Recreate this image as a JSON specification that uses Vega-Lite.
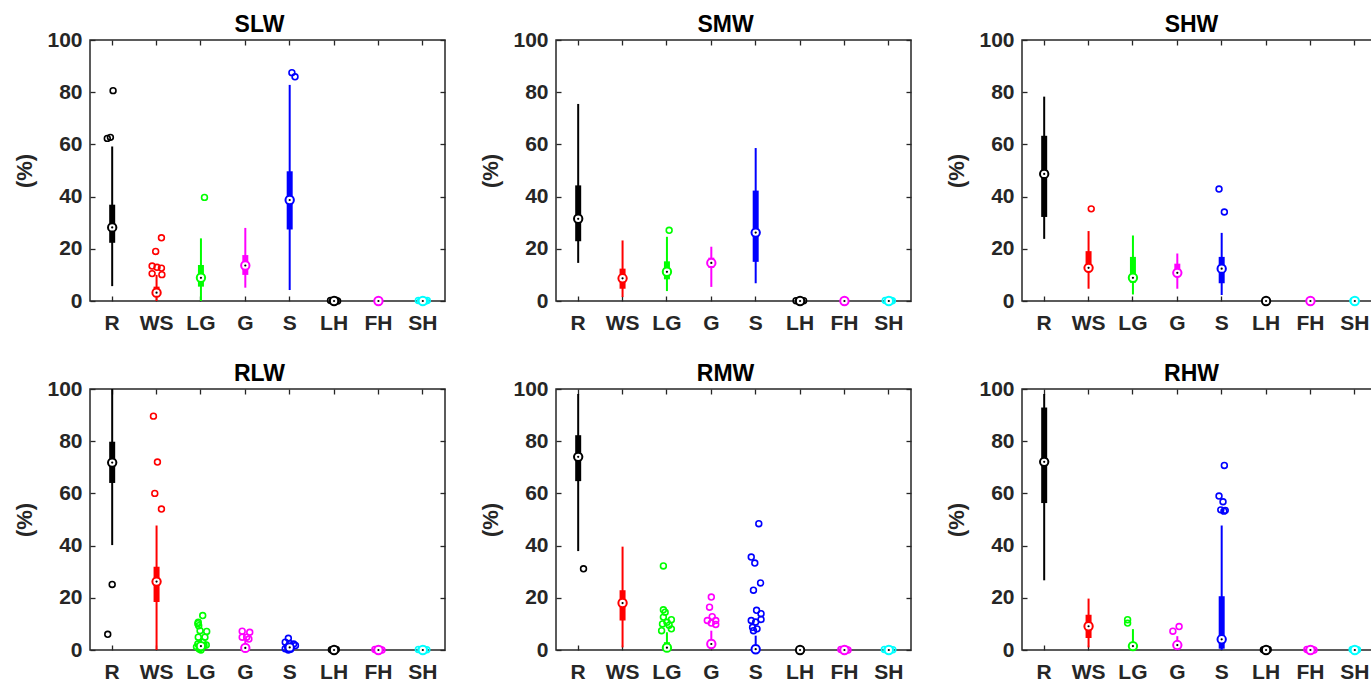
{
"$schema": "https://vega.github.io/schema/vega-lite/v6.json",
"padding": {"left": 13, "top": 13, "right": 0, "bottom": 0},
"datasets": {"d": [
{"p":"SLW","c":"R","t":"b","lo":5.7,"q1":22.3,"md":28.2,"q3":36.9,"hi":59.2},
{"p":"SLW","c":"WS","t":"b","lo":0,"q1":1.5,"md":3.2,"q3":5.5,"hi":10},
{"p":"SLW","c":"LG","t":"b","lo":0,"q1":5.5,"md":8.9,"q3":13.8,"hi":24},
{"p":"SLW","c":"G","t":"b","lo":5.1,"q1":10,"md":13.6,"q3":17.6,"hi":28},
{"p":"SLW","c":"S","t":"b","lo":4.2,"q1":27.4,"md":38.7,"q3":49.7,"hi":82.8},
{"p":"SLW","c":"LH","t":"b","lo":0,"q1":0,"md":0,"q3":0,"hi":0},
{"p":"SLW","c":"FH","t":"b","lo":0,"q1":0,"md":0,"q3":0,"hi":0},
{"p":"SLW","c":"SH","t":"b","lo":0,"q1":0,"md":0,"q3":0,"hi":0},
{"p":"SLW","c":"R","t":"o","v":62.3,"j":-0.11},
{"p":"SLW","c":"R","t":"o","v":62.7,"j":-0.04},
{"p":"SLW","c":"R","t":"o","v":80.6,"j":0.02},
{"p":"SLW","c":"WS","t":"o","v":24.2,"j":0.11},
{"p":"SLW","c":"WS","t":"o","v":19,"j":-0.02},
{"p":"SLW","c":"WS","t":"o","v":13.4,"j":-0.1},
{"p":"SLW","c":"WS","t":"o","v":12.9,"j":0.01},
{"p":"SLW","c":"WS","t":"o","v":12.6,"j":0.11},
{"p":"SLW","c":"WS","t":"o","v":10.5,"j":-0.1},
{"p":"SLW","c":"WS","t":"o","v":10.1,"j":0.12},
{"p":"SLW","c":"LG","t":"o","v":39.7,"j":0.08},
{"p":"SLW","c":"S","t":"o","v":87.5,"j":0.05},
{"p":"SLW","c":"S","t":"o","v":85.9,"j":0.12},
{"p":"SLW","c":"LH","t":"o","v":0.2,"j":-0.08},
{"p":"SLW","c":"LH","t":"o","v":0.1,"j":-0.03},
{"p":"SLW","c":"LH","t":"o","v":0.3,"j":0.04},
{"p":"SLW","c":"LH","t":"o","v":0,"j":0.08},
{"p":"SLW","c":"SH","t":"o","v":0.2,"j":-0.1},
{"p":"SLW","c":"SH","t":"o","v":0.1,"j":-0.05},
{"p":"SLW","c":"SH","t":"o","v":0.3,"j":0.02},
{"p":"SLW","c":"SH","t":"o","v":0,"j":0.06},
{"p":"SLW","c":"SH","t":"o","v":0.2,"j":0.1},

{"p":"SMW","c":"R","t":"b","lo":14.6,"q1":22.9,"md":31.5,"q3":44.3,"hi":75.5},
{"p":"SMW","c":"WS","t":"b","lo":1.5,"q1":4.7,"md":8.7,"q3":12.4,"hi":23.2},
{"p":"SMW","c":"LG","t":"b","lo":3.8,"q1":8.3,"md":11.2,"q3":15.2,"hi":24.6},
{"p":"SMW","c":"G","t":"b","lo":5.4,"q1":12.7,"md":14.6,"q3":16.6,"hi":20.8},
{"p":"SMW","c":"S","t":"b","lo":6.8,"q1":15,"md":26.2,"q3":42.3,"hi":58.6},
{"p":"SMW","c":"LH","t":"b","lo":0,"q1":0,"md":0,"q3":0,"hi":0},
{"p":"SMW","c":"FH","t":"b","lo":0,"q1":0,"md":0,"q3":0,"hi":0},
{"p":"SMW","c":"SH","t":"b","lo":0,"q1":0,"md":0,"q3":0,"hi":0},
{"p":"SMW","c":"LG","t":"o","v":27.1,"j":0.05},
{"p":"SMW","c":"LH","t":"o","v":0.1,"j":-0.09},
{"p":"SMW","c":"LH","t":"o","v":0.2,"j":-0.03},
{"p":"SMW","c":"LH","t":"o","v":0,"j":0.03},
{"p":"SMW","c":"LH","t":"o","v":0.1,"j":0.08},
{"p":"SMW","c":"SH","t":"o","v":0.2,"j":-0.08},
{"p":"SMW","c":"SH","t":"o","v":0,"j":-0.02},
{"p":"SMW","c":"SH","t":"o","v":0.3,"j":0.04},
{"p":"SMW","c":"SH","t":"o","v":0.1,"j":0.08},

{"p":"SHW","c":"R","t":"b","lo":23.8,"q1":32.2,"md":48.7,"q3":63.3,"hi":78.3},
{"p":"SHW","c":"WS","t":"b","lo":4.7,"q1":11.5,"md":12.7,"q3":19.1,"hi":26.8},
{"p":"SHW","c":"LG","t":"b","lo":2.5,"q1":7,"md":8.9,"q3":16.9,"hi":25.1},
{"p":"SHW","c":"G","t":"b","lo":4.7,"q1":10.2,"md":10.8,"q3":14.3,"hi":18.2},
{"p":"SHW","c":"S","t":"b","lo":2.3,"q1":6.8,"md":12.4,"q3":16.9,"hi":26.1},
{"p":"SHW","c":"LH","t":"b","lo":0,"q1":0,"md":0,"q3":0,"hi":0},
{"p":"SHW","c":"FH","t":"b","lo":0,"q1":0,"md":0,"q3":0,"hi":0},
{"p":"SHW","c":"SH","t":"b","lo":0,"q1":0,"md":0,"q3":0,"hi":0},
{"p":"SHW","c":"WS","t":"o","v":35.3,"j":0.06},
{"p":"SHW","c":"S","t":"o","v":42.9,"j":-0.06},
{"p":"SHW","c":"S","t":"o","v":34.1,"j":0.06},
{"p":"SHW","c":"SH","t":"o","v":0.1,"j":-0.04},

{"p":"RLW","c":"R","t":"b","lo":40.2,"q1":64,"md":71.8,"q3":79.8,"hi":100},
{"p":"RLW","c":"WS","t":"b","lo":0,"q1":18.4,"md":26.2,"q3":31.9,"hi":47.7},
{"p":"RLW","c":"LG","t":"b","lo":0,"q1":0.5,"md":1.5,"q3":2.5,"hi":4},
{"p":"RLW","c":"G","t":"b","lo":0,"q1":0.5,"md":0.8,"q3":2,"hi":4},
{"p":"RLW","c":"S","t":"b","lo":0,"q1":0.5,"md":1,"q3":1.5,"hi":2},
{"p":"RLW","c":"LH","t":"b","lo":0,"q1":0,"md":0,"q3":0,"hi":0},
{"p":"RLW","c":"FH","t":"b","lo":0,"q1":0,"md":0,"q3":0,"hi":0},
{"p":"RLW","c":"SH","t":"b","lo":0,"q1":0,"md":0,"q3":0,"hi":0},
{"p":"RLW","c":"R","t":"o","v":25.1,"j":0},
{"p":"RLW","c":"R","t":"o","v":6,"j":-0.1},
{"p":"RLW","c":"WS","t":"o","v":89.6,"j":-0.07},
{"p":"RLW","c":"WS","t":"o","v":72,"j":0.02},
{"p":"RLW","c":"WS","t":"o","v":60,"j":-0.04},
{"p":"RLW","c":"WS","t":"o","v":54,"j":0.11},
{"p":"RLW","c":"LG","t":"o","v":13.2,"j":0.04},
{"p":"RLW","c":"LG","t":"o","v":10.6,"j":-0.06},
{"p":"RLW","c":"LG","t":"o","v":10.1,"j":-0.07},
{"p":"RLW","c":"LG","t":"o","v":9.3,"j":-0.05},
{"p":"RLW","c":"LG","t":"o","v":7.4,"j":-0.02},
{"p":"RLW","c":"LG","t":"o","v":7.1,"j":0.13},
{"p":"RLW","c":"LG","t":"o","v":4.9,"j":-0.06},
{"p":"RLW","c":"LG","t":"o","v":4.9,"j":0.09},
{"p":"RLW","c":"LG","t":"o","v":3,"j":0.04},
{"p":"RLW","c":"LG","t":"o","v":2.3,"j":-0.07},
{"p":"RLW","c":"LG","t":"o","v":1.7,"j":0.07},
{"p":"RLW","c":"LG","t":"o","v":1.9,"j":0.12},
{"p":"RLW","c":"LG","t":"o","v":1.2,"j":-0.1},
{"p":"RLW","c":"LG","t":"o","v":0.4,"j":-0.04},
{"p":"RLW","c":"LG","t":"o","v":0,"j":0},
{"p":"RLW","c":"G","t":"o","v":7.2,"j":-0.07},
{"p":"RLW","c":"G","t":"o","v":6.8,"j":0.1},
{"p":"RLW","c":"G","t":"o","v":4.9,"j":-0.07},
{"p":"RLW","c":"G","t":"o","v":4.9,"j":0.03},
{"p":"RLW","c":"G","t":"o","v":4.2,"j":0.08},
{"p":"RLW","c":"S","t":"o","v":4.5,"j":-0.03},
{"p":"RLW","c":"S","t":"o","v":3,"j":-0.1},
{"p":"RLW","c":"S","t":"o","v":2.5,"j":0},
{"p":"RLW","c":"S","t":"o","v":2.3,"j":0.09},
{"p":"RLW","c":"S","t":"o","v":1.7,"j":0.13},
{"p":"RLW","c":"S","t":"o","v":1.3,"j":-0.05},
{"p":"RLW","c":"S","t":"o","v":0.5,"j":-0.1},
{"p":"RLW","c":"S","t":"o","v":0.3,"j":0.02},
{"p":"RLW","c":"S","t":"o","v":0,"j":-0.03},
{"p":"RLW","c":"LH","t":"o","v":0.1,"j":-0.06},
{"p":"RLW","c":"LH","t":"o","v":0.2,"j":0.05},
{"p":"RLW","c":"FH","t":"o","v":0.2,"j":-0.08},
{"p":"RLW","c":"FH","t":"o","v":0.1,"j":-0.03},
{"p":"RLW","c":"FH","t":"o","v":0.3,"j":0.03},
{"p":"RLW","c":"FH","t":"o","v":0,"j":0.08},
{"p":"RLW","c":"SH","t":"o","v":0.2,"j":-0.1},
{"p":"RLW","c":"SH","t":"o","v":0,"j":-0.04},
{"p":"RLW","c":"SH","t":"o","v":0.3,"j":0.03},
{"p":"RLW","c":"SH","t":"o","v":0.1,"j":0.09},

{"p":"RMW","c":"R","t":"b","lo":37.9,"q1":64.7,"md":74,"q3":82.3,"hi":98.1},
{"p":"RMW","c":"WS","t":"b","lo":1,"q1":11.3,"md":18,"q3":22.9,"hi":39.6},
{"p":"RMW","c":"LG","t":"b","lo":0.5,"q1":0.8,"md":0.9,"q3":3,"hi":6.8},
{"p":"RMW","c":"G","t":"b","lo":1.5,"q1":2,"md":2.3,"q3":4,"hi":7.4},
{"p":"RMW","c":"S","t":"b","lo":0,"q1":0.2,"md":0.3,"q3":2,"hi":5.5},
{"p":"RMW","c":"LH","t":"b","lo":0,"q1":0,"md":0,"q3":0,"hi":0},
{"p":"RMW","c":"FH","t":"b","lo":0,"q1":0,"md":0,"q3":0,"hi":0},
{"p":"RMW","c":"SH","t":"b","lo":0,"q1":0,"md":0,"q3":0,"hi":0},
{"p":"RMW","c":"R","t":"o","v":31.1,"j":0.12},
{"p":"RMW","c":"LG","t":"o","v":32.2,"j":-0.08},
{"p":"RMW","c":"LG","t":"o","v":15.4,"j":-0.08},
{"p":"RMW","c":"LG","t":"o","v":14.5,"j":-0.04},
{"p":"RMW","c":"LG","t":"o","v":12.6,"j":-0.08},
{"p":"RMW","c":"LG","t":"o","v":11.6,"j":0.1},
{"p":"RMW","c":"LG","t":"o","v":10.6,"j":0},
{"p":"RMW","c":"LG","t":"o","v":10,"j":-0.1},
{"p":"RMW","c":"LG","t":"o","v":9.5,"j":0.05},
{"p":"RMW","c":"LG","t":"o","v":8.1,"j":0.1},
{"p":"RMW","c":"LG","t":"o","v":7.4,"j":-0.12},
{"p":"RMW","c":"G","t":"o","v":20.3,"j":0},
{"p":"RMW","c":"G","t":"o","v":16.4,"j":-0.04},
{"p":"RMW","c":"G","t":"o","v":12.8,"j":0.02},
{"p":"RMW","c":"G","t":"o","v":11.3,"j":-0.09},
{"p":"RMW","c":"G","t":"o","v":11.3,"j":0.1},
{"p":"RMW","c":"G","t":"o","v":10.3,"j":0},
{"p":"RMW","c":"G","t":"o","v":9.8,"j":0.1},
{"p":"RMW","c":"S","t":"o","v":48.4,"j":0.07},
{"p":"RMW","c":"S","t":"o","v":35.6,"j":-0.1},
{"p":"RMW","c":"S","t":"o","v":33.3,"j":-0.02},
{"p":"RMW","c":"S","t":"o","v":25.7,"j":0.11},
{"p":"RMW","c":"S","t":"o","v":22.9,"j":-0.05},
{"p":"RMW","c":"S","t":"o","v":15.2,"j":0.02},
{"p":"RMW","c":"S","t":"o","v":13.9,"j":0.12},
{"p":"RMW","c":"S","t":"o","v":11.7,"j":0.12},
{"p":"RMW","c":"S","t":"o","v":11.3,"j":-0.1},
{"p":"RMW","c":"S","t":"o","v":10.7,"j":0},
{"p":"RMW","c":"S","t":"o","v":8.7,"j":-0.07},
{"p":"RMW","c":"S","t":"o","v":8.1,"j":0.03},
{"p":"RMW","c":"S","t":"o","v":7.4,"j":-0.05},
{"p":"RMW","c":"LH","t":"o","v":0.1,"j":0.02},
{"p":"RMW","c":"FH","t":"o","v":0.2,"j":-0.08},
{"p":"RMW","c":"FH","t":"o","v":0.1,"j":-0.03},
{"p":"RMW","c":"FH","t":"o","v":0.3,"j":0.03},
{"p":"RMW","c":"FH","t":"o","v":0,"j":0.08},
{"p":"RMW","c":"SH","t":"o","v":0.2,"j":-0.1},
{"p":"RMW","c":"SH","t":"o","v":0,"j":-0.04},
{"p":"RMW","c":"SH","t":"o","v":0.3,"j":0.03},
{"p":"RMW","c":"SH","t":"o","v":0.1,"j":0.09},

{"p":"RHW","c":"R","t":"b","lo":26.7,"q1":56.3,"md":72.1,"q3":92.9,"hi":98.1},
{"p":"RHW","c":"WS","t":"b","lo":1,"q1":4.6,"md":9.1,"q3":13.5,"hi":19.7},
{"p":"RHW","c":"LG","t":"b","lo":0.5,"q1":1,"md":1.5,"q3":3,"hi":8},
{"p":"RHW","c":"G","t":"b","lo":1,"q1":1.5,"md":1.9,"q3":3,"hi":5.3},
{"p":"RHW","c":"S","t":"b","lo":0,"q1":0.5,"md":4.1,"q3":20.6,"hi":47.7},
{"p":"RHW","c":"LH","t":"b","lo":0,"q1":0,"md":0,"q3":0,"hi":0},
{"p":"RHW","c":"FH","t":"b","lo":0,"q1":0,"md":0,"q3":0,"hi":0},
{"p":"RHW","c":"SH","t":"b","lo":0,"q1":0,"md":0,"q3":0,"hi":0},
{"p":"RHW","c":"LG","t":"o","v":11.6,"j":-0.12},
{"p":"RHW","c":"LG","t":"o","v":10.3,"j":-0.12},
{"p":"RHW","c":"G","t":"o","v":9,"j":0.04},
{"p":"RHW","c":"G","t":"o","v":7.2,"j":-0.1},
{"p":"RHW","c":"S","t":"o","v":70.7,"j":0.06},
{"p":"RHW","c":"S","t":"o","v":59,"j":-0.06},
{"p":"RHW","c":"S","t":"o","v":56.8,"j":0.03},
{"p":"RHW","c":"S","t":"o","v":53.7,"j":-0.02},
{"p":"RHW","c":"S","t":"o","v":53.2,"j":0.05},
{"p":"RHW","c":"S","t":"o","v":53.5,"j":0.08},
{"p":"RHW","c":"LH","t":"o","v":0.1,"j":-0.06},
{"p":"RHW","c":"LH","t":"o","v":0.2,"j":0.05},
{"p":"RHW","c":"FH","t":"o","v":0.2,"j":-0.08},
{"p":"RHW","c":"FH","t":"o","v":0.1,"j":-0.03},
{"p":"RHW","c":"FH","t":"o","v":0.3,"j":0.03},
{"p":"RHW","c":"FH","t":"o","v":0,"j":0.08},
{"p":"RHW","c":"SH","t":"o","v":0.2,"j":-0.06},
{"p":"RHW","c":"SH","t":"o","v":0,"j":0},
{"p":"RHW","c":"SH","t":"o","v":0.1,"j":0.06}
]},
"data": {"name": "d"},
"columns": 3,
"spacing": {"row": 88, "column": 111},
"bounds": "flush",
"concat": [
{"title":{"text":"SLW"},"width":355,"height":261,"transform":[{"filter":"datum.p==='SLW'"}],"resolve":{"axis":{"x":"independent","y":"independent"}},
"layer":[
{"transform":[{"filter":"datum.t==='b'"}],"mark":{"type":"rule","strokeWidth":2},"encoding":{"x":{"field":"c","type":"nominal","scale":{"type":"band","domain":["R","WS","LG","G","S","LH","FH","SH"],"paddingInner":0,"paddingOuter":0},"axis":{"orient":"bottom","title":null}},"y":{"field":"lo","type":"quantitative","scale":{"domain":[0,100],"nice":false},"axis":{"orient":"left","title":"(%)","values":[0,20,40,60,80,100]}},"y2":{"field":"hi"},"stroke":{"field":"c","type":"nominal","scale":{"domain":["R","WS","LG","G","S","LH","FH","SH"],"range":["#000000","#ff0000","#00ff00","#ff00ff","#0000ff","#000000","#ff00ff","#00ffff"]},"legend":null}}},
{"transform":[{"filter":"datum.t==='b'"}],"mark":{"type":"rule","strokeWidth":6},"encoding":{"x":{"field":"c","type":"nominal","scale":{"type":"band","domain":["R","WS","LG","G","S","LH","FH","SH"],"paddingInner":0,"paddingOuter":0},"axis":{"orient":"top","title":null,"labels":false}},"y":{"field":"q1","type":"quantitative","scale":{"domain":[0,100],"nice":false},"axis":{"orient":"right","title":null,"labels":false,"values":[0,20,40,60,80,100]}},"y2":{"field":"q3"},"stroke":{"field":"c","type":"nominal","scale":{"domain":["R","WS","LG","G","S","LH","FH","SH"],"range":["#000000","#ff0000","#00ff00","#ff00ff","#0000ff","#000000","#ff00ff","#00ffff"]},"legend":null}}},
{"transform":[{"filter":"datum.t==='o'"}],"mark":{"type":"point","shape":"circle","filled":false,"size":34,"strokeWidth":1.6,"opacity":1},"encoding":{"x":{"field":"c","type":"nominal","scale":{"type":"band","domain":["R","WS","LG","G","S","LH","FH","SH"],"paddingInner":0,"paddingOuter":0},"axis":null},"xOffset":{"field":"j","type":"quantitative","scale":{"domain":[-0.5,0.5]}},"y":{"field":"v","type":"quantitative","scale":{"domain":[0,100],"nice":false},"axis":null},"stroke":{"field":"c","type":"nominal","scale":{"domain":["R","WS","LG","G","S","LH","FH","SH"],"range":["#000000","#ff0000","#00ff00","#ff00ff","#0000ff","#000000","#ff00ff","#00ffff"]},"legend":null}}},
{"transform":[{"filter":"datum.t==='b'"}],"mark":{"type":"point","shape":"circle","filled":true,"fill":"#ffffff","size":70,"strokeWidth":2,"opacity":1},"encoding":{"x":{"field":"c","type":"nominal","scale":{"type":"band","domain":["R","WS","LG","G","S","LH","FH","SH"],"paddingInner":0,"paddingOuter":0},"axis":null},"y":{"field":"md","type":"quantitative","scale":{"domain":[0,100],"nice":false},"axis":null},"stroke":{"field":"c","type":"nominal","scale":{"domain":["R","WS","LG","G","S","LH","FH","SH"],"range":["#000000","#ff0000","#00ff00","#ff00ff","#0000ff","#000000","#ff00ff","#00ffff"]},"legend":null}}},
{"transform":[{"filter":"datum.t==='b'"}],"mark":{"type":"point","shape":"circle","filled":true,"color":"#000000","size":5,"opacity":1},"encoding":{"x":{"field":"c","type":"nominal","scale":{"type":"band","domain":["R","WS","LG","G","S","LH","FH","SH"],"paddingInner":0,"paddingOuter":0},"axis":null},"y":{"field":"md","type":"quantitative","scale":{"domain":[0,100],"nice":false},"axis":null}}}
]},
{"title":{"text":"SMW"},"width":355,"height":261,"transform":[{"filter":"datum.p==='SMW'"}],"resolve":{"axis":{"x":"independent","y":"independent"}},
"layer":[
{"transform":[{"filter":"datum.t==='b'"}],"mark":{"type":"rule","strokeWidth":2},"encoding":{"x":{"field":"c","type":"nominal","scale":{"type":"band","domain":["R","WS","LG","G","S","LH","FH","SH"],"paddingInner":0,"paddingOuter":0},"axis":{"orient":"bottom","title":null}},"y":{"field":"lo","type":"quantitative","scale":{"domain":[0,100],"nice":false},"axis":{"orient":"left","title":"(%)","values":[0,20,40,60,80,100]}},"y2":{"field":"hi"},"stroke":{"field":"c","type":"nominal","scale":{"domain":["R","WS","LG","G","S","LH","FH","SH"],"range":["#000000","#ff0000","#00ff00","#ff00ff","#0000ff","#000000","#ff00ff","#00ffff"]},"legend":null}}},
{"transform":[{"filter":"datum.t==='b'"}],"mark":{"type":"rule","strokeWidth":6},"encoding":{"x":{"field":"c","type":"nominal","scale":{"type":"band","domain":["R","WS","LG","G","S","LH","FH","SH"],"paddingInner":0,"paddingOuter":0},"axis":{"orient":"top","title":null,"labels":false}},"y":{"field":"q1","type":"quantitative","scale":{"domain":[0,100],"nice":false},"axis":{"orient":"right","title":null,"labels":false,"values":[0,20,40,60,80,100]}},"y2":{"field":"q3"},"stroke":{"field":"c","type":"nominal","scale":{"domain":["R","WS","LG","G","S","LH","FH","SH"],"range":["#000000","#ff0000","#00ff00","#ff00ff","#0000ff","#000000","#ff00ff","#00ffff"]},"legend":null}}},
{"transform":[{"filter":"datum.t==='o'"}],"mark":{"type":"point","shape":"circle","filled":false,"size":34,"strokeWidth":1.6,"opacity":1},"encoding":{"x":{"field":"c","type":"nominal","scale":{"type":"band","domain":["R","WS","LG","G","S","LH","FH","SH"],"paddingInner":0,"paddingOuter":0},"axis":null},"xOffset":{"field":"j","type":"quantitative","scale":{"domain":[-0.5,0.5]}},"y":{"field":"v","type":"quantitative","scale":{"domain":[0,100],"nice":false},"axis":null},"stroke":{"field":"c","type":"nominal","scale":{"domain":["R","WS","LG","G","S","LH","FH","SH"],"range":["#000000","#ff0000","#00ff00","#ff00ff","#0000ff","#000000","#ff00ff","#00ffff"]},"legend":null}}},
{"transform":[{"filter":"datum.t==='b'"}],"mark":{"type":"point","shape":"circle","filled":true,"fill":"#ffffff","size":70,"strokeWidth":2,"opacity":1},"encoding":{"x":{"field":"c","type":"nominal","scale":{"type":"band","domain":["R","WS","LG","G","S","LH","FH","SH"],"paddingInner":0,"paddingOuter":0},"axis":null},"y":{"field":"md","type":"quantitative","scale":{"domain":[0,100],"nice":false},"axis":null},"stroke":{"field":"c","type":"nominal","scale":{"domain":["R","WS","LG","G","S","LH","FH","SH"],"range":["#000000","#ff0000","#00ff00","#ff00ff","#0000ff","#000000","#ff00ff","#00ffff"]},"legend":null}}},
{"transform":[{"filter":"datum.t==='b'"}],"mark":{"type":"point","shape":"circle","filled":true,"color":"#000000","size":5,"opacity":1},"encoding":{"x":{"field":"c","type":"nominal","scale":{"type":"band","domain":["R","WS","LG","G","S","LH","FH","SH"],"paddingInner":0,"paddingOuter":0},"axis":null},"y":{"field":"md","type":"quantitative","scale":{"domain":[0,100],"nice":false},"axis":null}}}
]},
{"title":{"text":"SHW"},"width":355,"height":261,"transform":[{"filter":"datum.p==='SHW'"}],"resolve":{"axis":{"x":"independent","y":"independent"}},
"layer":[
{"transform":[{"filter":"datum.t==='b'"}],"mark":{"type":"rule","strokeWidth":2},"encoding":{"x":{"field":"c","type":"nominal","scale":{"type":"band","domain":["R","WS","LG","G","S","LH","FH","SH"],"paddingInner":0,"paddingOuter":0},"axis":{"orient":"bottom","title":null}},"y":{"field":"lo","type":"quantitative","scale":{"domain":[0,100],"nice":false},"axis":{"orient":"left","title":"(%)","values":[0,20,40,60,80,100]}},"y2":{"field":"hi"},"stroke":{"field":"c","type":"nominal","scale":{"domain":["R","WS","LG","G","S","LH","FH","SH"],"range":["#000000","#ff0000","#00ff00","#ff00ff","#0000ff","#000000","#ff00ff","#00ffff"]},"legend":null}}},
{"transform":[{"filter":"datum.t==='b'"}],"mark":{"type":"rule","strokeWidth":6},"encoding":{"x":{"field":"c","type":"nominal","scale":{"type":"band","domain":["R","WS","LG","G","S","LH","FH","SH"],"paddingInner":0,"paddingOuter":0},"axis":{"orient":"top","title":null,"labels":false}},"y":{"field":"q1","type":"quantitative","scale":{"domain":[0,100],"nice":false},"axis":{"orient":"right","title":null,"labels":false,"values":[0,20,40,60,80,100]}},"y2":{"field":"q3"},"stroke":{"field":"c","type":"nominal","scale":{"domain":["R","WS","LG","G","S","LH","FH","SH"],"range":["#000000","#ff0000","#00ff00","#ff00ff","#0000ff","#000000","#ff00ff","#00ffff"]},"legend":null}}},
{"transform":[{"filter":"datum.t==='o'"}],"mark":{"type":"point","shape":"circle","filled":false,"size":34,"strokeWidth":1.6,"opacity":1},"encoding":{"x":{"field":"c","type":"nominal","scale":{"type":"band","domain":["R","WS","LG","G","S","LH","FH","SH"],"paddingInner":0,"paddingOuter":0},"axis":null},"xOffset":{"field":"j","type":"quantitative","scale":{"domain":[-0.5,0.5]}},"y":{"field":"v","type":"quantitative","scale":{"domain":[0,100],"nice":false},"axis":null},"stroke":{"field":"c","type":"nominal","scale":{"domain":["R","WS","LG","G","S","LH","FH","SH"],"range":["#000000","#ff0000","#00ff00","#ff00ff","#0000ff","#000000","#ff00ff","#00ffff"]},"legend":null}}},
{"transform":[{"filter":"datum.t==='b'"}],"mark":{"type":"point","shape":"circle","filled":true,"fill":"#ffffff","size":70,"strokeWidth":2,"opacity":1},"encoding":{"x":{"field":"c","type":"nominal","scale":{"type":"band","domain":["R","WS","LG","G","S","LH","FH","SH"],"paddingInner":0,"paddingOuter":0},"axis":null},"y":{"field":"md","type":"quantitative","scale":{"domain":[0,100],"nice":false},"axis":null},"stroke":{"field":"c","type":"nominal","scale":{"domain":["R","WS","LG","G","S","LH","FH","SH"],"range":["#000000","#ff0000","#00ff00","#ff00ff","#0000ff","#000000","#ff00ff","#00ffff"]},"legend":null}}},
{"transform":[{"filter":"datum.t==='b'"}],"mark":{"type":"point","shape":"circle","filled":true,"color":"#000000","size":5,"opacity":1},"encoding":{"x":{"field":"c","type":"nominal","scale":{"type":"band","domain":["R","WS","LG","G","S","LH","FH","SH"],"paddingInner":0,"paddingOuter":0},"axis":null},"y":{"field":"md","type":"quantitative","scale":{"domain":[0,100],"nice":false},"axis":null}}}
]},
{"title":{"text":"RLW"},"width":355,"height":261,"transform":[{"filter":"datum.p==='RLW'"}],"resolve":{"axis":{"x":"independent","y":"independent"}},
"layer":[
{"transform":[{"filter":"datum.t==='b'"}],"mark":{"type":"rule","strokeWidth":2},"encoding":{"x":{"field":"c","type":"nominal","scale":{"type":"band","domain":["R","WS","LG","G","S","LH","FH","SH"],"paddingInner":0,"paddingOuter":0},"axis":{"orient":"bottom","title":null}},"y":{"field":"lo","type":"quantitative","scale":{"domain":[0,100],"nice":false},"axis":{"orient":"left","title":"(%)","values":[0,20,40,60,80,100]}},"y2":{"field":"hi"},"stroke":{"field":"c","type":"nominal","scale":{"domain":["R","WS","LG","G","S","LH","FH","SH"],"range":["#000000","#ff0000","#00ff00","#ff00ff","#0000ff","#000000","#ff00ff","#00ffff"]},"legend":null}}},
{"transform":[{"filter":"datum.t==='b'"}],"mark":{"type":"rule","strokeWidth":6},"encoding":{"x":{"field":"c","type":"nominal","scale":{"type":"band","domain":["R","WS","LG","G","S","LH","FH","SH"],"paddingInner":0,"paddingOuter":0},"axis":{"orient":"top","title":null,"labels":false}},"y":{"field":"q1","type":"quantitative","scale":{"domain":[0,100],"nice":false},"axis":{"orient":"right","title":null,"labels":false,"values":[0,20,40,60,80,100]}},"y2":{"field":"q3"},"stroke":{"field":"c","type":"nominal","scale":{"domain":["R","WS","LG","G","S","LH","FH","SH"],"range":["#000000","#ff0000","#00ff00","#ff00ff","#0000ff","#000000","#ff00ff","#00ffff"]},"legend":null}}},
{"transform":[{"filter":"datum.t==='o'"}],"mark":{"type":"point","shape":"circle","filled":false,"size":34,"strokeWidth":1.6,"opacity":1},"encoding":{"x":{"field":"c","type":"nominal","scale":{"type":"band","domain":["R","WS","LG","G","S","LH","FH","SH"],"paddingInner":0,"paddingOuter":0},"axis":null},"xOffset":{"field":"j","type":"quantitative","scale":{"domain":[-0.5,0.5]}},"y":{"field":"v","type":"quantitative","scale":{"domain":[0,100],"nice":false},"axis":null},"stroke":{"field":"c","type":"nominal","scale":{"domain":["R","WS","LG","G","S","LH","FH","SH"],"range":["#000000","#ff0000","#00ff00","#ff00ff","#0000ff","#000000","#ff00ff","#00ffff"]},"legend":null}}},
{"transform":[{"filter":"datum.t==='b'"}],"mark":{"type":"point","shape":"circle","filled":true,"fill":"#ffffff","size":70,"strokeWidth":2,"opacity":1},"encoding":{"x":{"field":"c","type":"nominal","scale":{"type":"band","domain":["R","WS","LG","G","S","LH","FH","SH"],"paddingInner":0,"paddingOuter":0},"axis":null},"y":{"field":"md","type":"quantitative","scale":{"domain":[0,100],"nice":false},"axis":null},"stroke":{"field":"c","type":"nominal","scale":{"domain":["R","WS","LG","G","S","LH","FH","SH"],"range":["#000000","#ff0000","#00ff00","#ff00ff","#0000ff","#000000","#ff00ff","#00ffff"]},"legend":null}}},
{"transform":[{"filter":"datum.t==='b'"}],"mark":{"type":"point","shape":"circle","filled":true,"color":"#000000","size":5,"opacity":1},"encoding":{"x":{"field":"c","type":"nominal","scale":{"type":"band","domain":["R","WS","LG","G","S","LH","FH","SH"],"paddingInner":0,"paddingOuter":0},"axis":null},"y":{"field":"md","type":"quantitative","scale":{"domain":[0,100],"nice":false},"axis":null}}}
]},
{"title":{"text":"RMW"},"width":355,"height":261,"transform":[{"filter":"datum.p==='RMW'"}],"resolve":{"axis":{"x":"independent","y":"independent"}},
"layer":[
{"transform":[{"filter":"datum.t==='b'"}],"mark":{"type":"rule","strokeWidth":2},"encoding":{"x":{"field":"c","type":"nominal","scale":{"type":"band","domain":["R","WS","LG","G","S","LH","FH","SH"],"paddingInner":0,"paddingOuter":0},"axis":{"orient":"bottom","title":null}},"y":{"field":"lo","type":"quantitative","scale":{"domain":[0,100],"nice":false},"axis":{"orient":"left","title":"(%)","values":[0,20,40,60,80,100]}},"y2":{"field":"hi"},"stroke":{"field":"c","type":"nominal","scale":{"domain":["R","WS","LG","G","S","LH","FH","SH"],"range":["#000000","#ff0000","#00ff00","#ff00ff","#0000ff","#000000","#ff00ff","#00ffff"]},"legend":null}}},
{"transform":[{"filter":"datum.t==='b'"}],"mark":{"type":"rule","strokeWidth":6},"encoding":{"x":{"field":"c","type":"nominal","scale":{"type":"band","domain":["R","WS","LG","G","S","LH","FH","SH"],"paddingInner":0,"paddingOuter":0},"axis":{"orient":"top","title":null,"labels":false}},"y":{"field":"q1","type":"quantitative","scale":{"domain":[0,100],"nice":false},"axis":{"orient":"right","title":null,"labels":false,"values":[0,20,40,60,80,100]}},"y2":{"field":"q3"},"stroke":{"field":"c","type":"nominal","scale":{"domain":["R","WS","LG","G","S","LH","FH","SH"],"range":["#000000","#ff0000","#00ff00","#ff00ff","#0000ff","#000000","#ff00ff","#00ffff"]},"legend":null}}},
{"transform":[{"filter":"datum.t==='o'"}],"mark":{"type":"point","shape":"circle","filled":false,"size":34,"strokeWidth":1.6,"opacity":1},"encoding":{"x":{"field":"c","type":"nominal","scale":{"type":"band","domain":["R","WS","LG","G","S","LH","FH","SH"],"paddingInner":0,"paddingOuter":0},"axis":null},"xOffset":{"field":"j","type":"quantitative","scale":{"domain":[-0.5,0.5]}},"y":{"field":"v","type":"quantitative","scale":{"domain":[0,100],"nice":false},"axis":null},"stroke":{"field":"c","type":"nominal","scale":{"domain":["R","WS","LG","G","S","LH","FH","SH"],"range":["#000000","#ff0000","#00ff00","#ff00ff","#0000ff","#000000","#ff00ff","#00ffff"]},"legend":null}}},
{"transform":[{"filter":"datum.t==='b'"}],"mark":{"type":"point","shape":"circle","filled":true,"fill":"#ffffff","size":70,"strokeWidth":2,"opacity":1},"encoding":{"x":{"field":"c","type":"nominal","scale":{"type":"band","domain":["R","WS","LG","G","S","LH","FH","SH"],"paddingInner":0,"paddingOuter":0},"axis":null},"y":{"field":"md","type":"quantitative","scale":{"domain":[0,100],"nice":false},"axis":null},"stroke":{"field":"c","type":"nominal","scale":{"domain":["R","WS","LG","G","S","LH","FH","SH"],"range":["#000000","#ff0000","#00ff00","#ff00ff","#0000ff","#000000","#ff00ff","#00ffff"]},"legend":null}}},
{"transform":[{"filter":"datum.t==='b'"}],"mark":{"type":"point","shape":"circle","filled":true,"color":"#000000","size":5,"opacity":1},"encoding":{"x":{"field":"c","type":"nominal","scale":{"type":"band","domain":["R","WS","LG","G","S","LH","FH","SH"],"paddingInner":0,"paddingOuter":0},"axis":null},"y":{"field":"md","type":"quantitative","scale":{"domain":[0,100],"nice":false},"axis":null}}}
]},
{"title":{"text":"RHW"},"width":355,"height":261,"transform":[{"filter":"datum.p==='RHW'"}],"resolve":{"axis":{"x":"independent","y":"independent"}},
"layer":[
{"transform":[{"filter":"datum.t==='b'"}],"mark":{"type":"rule","strokeWidth":2},"encoding":{"x":{"field":"c","type":"nominal","scale":{"type":"band","domain":["R","WS","LG","G","S","LH","FH","SH"],"paddingInner":0,"paddingOuter":0},"axis":{"orient":"bottom","title":null}},"y":{"field":"lo","type":"quantitative","scale":{"domain":[0,100],"nice":false},"axis":{"orient":"left","title":"(%)","values":[0,20,40,60,80,100]}},"y2":{"field":"hi"},"stroke":{"field":"c","type":"nominal","scale":{"domain":["R","WS","LG","G","S","LH","FH","SH"],"range":["#000000","#ff0000","#00ff00","#ff00ff","#0000ff","#000000","#ff00ff","#00ffff"]},"legend":null}}},
{"transform":[{"filter":"datum.t==='b'"}],"mark":{"type":"rule","strokeWidth":6},"encoding":{"x":{"field":"c","type":"nominal","scale":{"type":"band","domain":["R","WS","LG","G","S","LH","FH","SH"],"paddingInner":0,"paddingOuter":0},"axis":{"orient":"top","title":null,"labels":false}},"y":{"field":"q1","type":"quantitative","scale":{"domain":[0,100],"nice":false},"axis":{"orient":"right","title":null,"labels":false,"values":[0,20,40,60,80,100]}},"y2":{"field":"q3"},"stroke":{"field":"c","type":"nominal","scale":{"domain":["R","WS","LG","G","S","LH","FH","SH"],"range":["#000000","#ff0000","#00ff00","#ff00ff","#0000ff","#000000","#ff00ff","#00ffff"]},"legend":null}}},
{"transform":[{"filter":"datum.t==='o'"}],"mark":{"type":"point","shape":"circle","filled":false,"size":34,"strokeWidth":1.6,"opacity":1},"encoding":{"x":{"field":"c","type":"nominal","scale":{"type":"band","domain":["R","WS","LG","G","S","LH","FH","SH"],"paddingInner":0,"paddingOuter":0},"axis":null},"xOffset":{"field":"j","type":"quantitative","scale":{"domain":[-0.5,0.5]}},"y":{"field":"v","type":"quantitative","scale":{"domain":[0,100],"nice":false},"axis":null},"stroke":{"field":"c","type":"nominal","scale":{"domain":["R","WS","LG","G","S","LH","FH","SH"],"range":["#000000","#ff0000","#00ff00","#ff00ff","#0000ff","#000000","#ff00ff","#00ffff"]},"legend":null}}},
{"transform":[{"filter":"datum.t==='b'"}],"mark":{"type":"point","shape":"circle","filled":true,"fill":"#ffffff","size":70,"strokeWidth":2,"opacity":1},"encoding":{"x":{"field":"c","type":"nominal","scale":{"type":"band","domain":["R","WS","LG","G","S","LH","FH","SH"],"paddingInner":0,"paddingOuter":0},"axis":null},"y":{"field":"md","type":"quantitative","scale":{"domain":[0,100],"nice":false},"axis":null},"stroke":{"field":"c","type":"nominal","scale":{"domain":["R","WS","LG","G","S","LH","FH","SH"],"range":["#000000","#ff0000","#00ff00","#ff00ff","#0000ff","#000000","#ff00ff","#00ffff"]},"legend":null}}},
{"transform":[{"filter":"datum.t==='b'"}],"mark":{"type":"point","shape":"circle","filled":true,"color":"#000000","size":5,"opacity":1},"encoding":{"x":{"field":"c","type":"nominal","scale":{"type":"band","domain":["R","WS","LG","G","S","LH","FH","SH"],"paddingInner":0,"paddingOuter":0},"axis":null},"y":{"field":"md","type":"quantitative","scale":{"domain":[0,100],"nice":false},"axis":null}}}
]}
],
"config": {
"font": "Liberation Sans",
"view": {"stroke": "#262626", "strokeWidth": 1.5},
"axis": {"grid": false, "domain": false, "labelFont": "Liberation Sans", "labelFontSize": 21, "labelFontWeight": "bold", "labelColor": "#262626", "labelOverlap": false, "labelFlush": false, "tickColor": "#262626", "tickWidth": 1.3, "tickSize": -5, "titleFont": "Liberation Sans", "titleFontSize": 22, "titleFontWeight": "bold", "titleColor": "#262626"},
"axisBottom": {"labelAngle": 0, "labelPadding": 16},
"axisLeft": {"labelPadding": 13, "titlePadding": 10},
"title": {"fontSize": 23, "fontWeight": "bold", "font": "Liberation Sans", "color": "#000000", "offset": -8, "anchor": "middle", "dx": -8}
}
}
